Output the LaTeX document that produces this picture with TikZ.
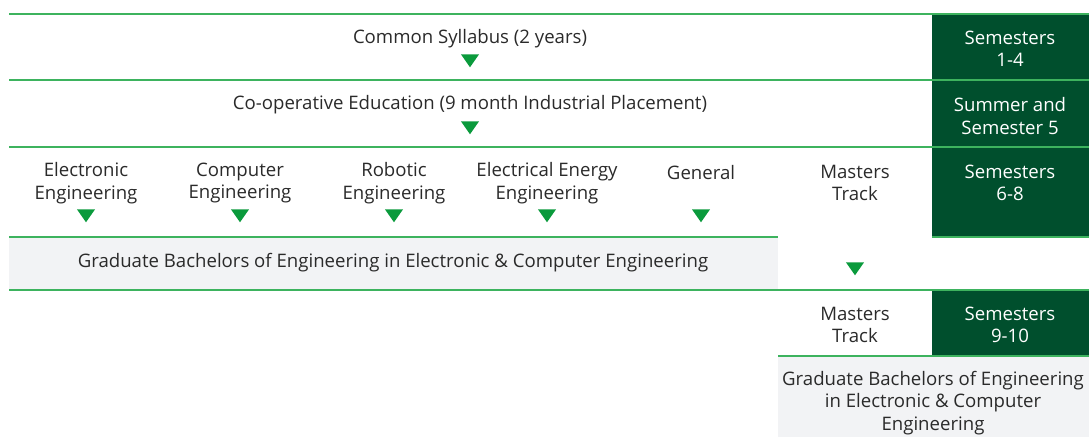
\documentclass[tikz,border=0pt]{standalone}
\usepackage{fontspec}
\setmainfont{Open Sans}
\usetikzlibrary{shapes.geometric}
\definecolor{darkgreen}{HTML}{004F2D}
\definecolor{rulegreen}{HTML}{3DB35E}
\definecolor{arrowgreen}{HTML}{0A9A3C}
\definecolor{panelgray}{HTML}{F2F3F5}
\definecolor{textgray}{HTML}{2A2A2A}
\tikzset{
  label/.style={align=center, text=textgray, font=\fontsize{18.6}{22.5}\selectfont, inner sep=0pt},
  semlabel/.style={label, text=white},
  down/.style={isosceles triangle, shape border rotate=270, isosceles triangle apex angle=70,
    fill=arrowgreen, inner sep=0pt, minimum height=13pt, minimum width=16pt},
  rule/.style={draw=rulegreen, line width=1.2pt}
}
\begin{document}
\begin{tikzpicture}[x=1pt, y=-1pt]
  \useasboundingbox (0,0) rectangle (1089,437);
  \fill[darkgreen] (932,14) rectangle (1089,237);
  \fill[darkgreen] (932,290) rectangle (1089,356);
  \fill[panelgray] (9,237) rectangle (778,290);
  \fill[panelgray] (778,356) rectangle (1089,437);
  \begin{scope}[rule]
    \draw (9,14) -- (1089,14);
    \draw (9,80) -- (1089,80);
    \draw (9,147) -- (1089,147);
    \draw (9,237) -- (778,237);
    \draw (932,237) -- (1089,237);
    \draw (9,290) -- (1089,290);
    \draw (778,356) -- (1089,356);
  \end{scope}
  \draw
    (470,38.5) node[label] (common){Common Syllabus (2 years)}
    (470,104.5) node[label] (coop){Co-operative Education (9 month Industrial Placement)}
    (1010,49) node[semlabel] (sem1){Semesters\\1-4}
    (1010,116) node[semlabel] (sem5){Summer and\\Semester 5}
    (1010,183) node[semlabel] (sem6){Semesters\\6-8}
    (86,183) node[label] (elec){Electronic\\Engineering}
    (240,183) node[label] (comp){Computer\\Engineering}
    (394,183) node[label] (robo){Robotic\\Engineering}
    (547,183) node[label] (energy){Electrical Energy\\Engineering}
    (701,172.5) node[label] (general){General}
    (855,183) node[label] (masters){Masters\\Track}
    (393,262.5) node[label] (bachelor){Graduate Bachelors of Engineering in Electronic \& Computer Engineering}
    (855,325) node[label] (masters2){Masters\\Track}
    (1010,325) node[semlabel] (sem9){Semesters\\9-10}
    (933,403) node[label] (bachelor2){Graduate Bachelors of Engineering\\in Electronic \& Computer\\Engineering};
  \draw
    (470,59) node[down] (t1){}
    (470,126) node[down] (t2){}
    (86,214) node[down] (t3){}
    (240,214) node[down] (t4){}
    (394,214) node[down] (t5){}
    (547,214) node[down] (t6){}
    (701,214) node[down] (t7){}
    (855,267) node[down] (t8){};
\end{tikzpicture}
\end{document}
